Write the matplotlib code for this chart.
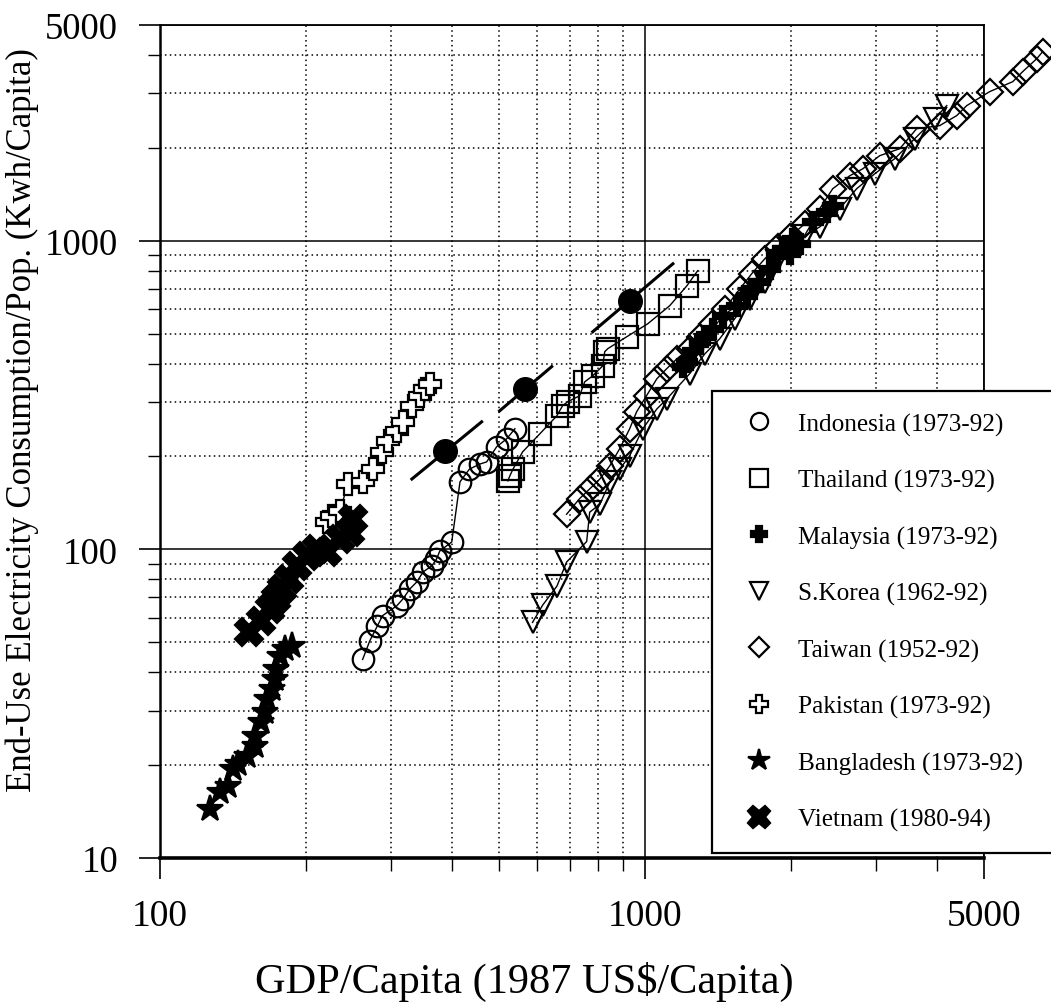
import numpy as np
import matplotlib.pyplot as plt
from matplotlib.lines import Line2D

plt.rcParams['font.family'] = ['Liberation Serif', 'DejaVu Serif']

# GDP/capita (1987 US$) vs end-use electricity (kWh/capita)
indonesia_gdp = [262, 271, 281, 288, 308, 317, 328, 339, 349, 364, 372, 378, 400,
                 416, 435, 457, 472, 495, 519, 540]
indonesia_kwh = [44, 50.5, 56.5, 61, 65.6, 69, 74.5, 78.5, 84.5, 88.4, 93, 98.8, 105.7,
                 165.6, 182, 189, 192, 215, 228, 246]

thailand_gdp = [522, 527, 535, 560, 608, 659, 677, 694, 734, 752, 781, 819, 827, 839,
                919, 1014, 1126, 1221, 1286]
thailand_kwh = [166.7, 173, 182, 207, 237, 271, 292, 301, 314.5, 349, 365, 393, 437, 447,
                489, 538, 616, 714, 800]

malaysia_gdp = [1197, 1221, 1256, 1298, 1330, 1381, 1448, 1548, 1623, 1662, 1726, 1810,
                1871, 1925, 1991, 2018, 2087, 2220, 2374, 2441]
malaysia_kwh = [391, 405, 440, 471, 488, 518, 571, 616, 663, 700, 736, 811,
                894, 942, 907, 1015, 977, 1153, 1241, 1299]

korea_gdp = [587, 616, 659, 690, 759, 770, 808, 847, 888, 931, 991, 1059, 1110, 1238, 1330,
             1427, 1533, 1646, 1768, 1871, 1991, 2138, 2296, 2524, 2735, 2980, 3277, 3603,
             3961, 4195]
korea_kwh = [58, 66, 76, 91, 106, 132, 140, 165, 182, 201, 246, 285, 307, 371, 430,
             481, 559, 649, 736, 861, 942, 1038, 1109, 1271, 1474, 1648, 1845, 2141,
             2486, 2740]

taiwan_gdp = [690, 734, 770, 808, 847, 888, 931, 962, 1009, 1059, 1110, 1164, 1238, 1298,
              1375, 1462, 1570, 1662, 1768, 1880, 1991, 2138, 2296, 2441, 2647, 2815, 3051,
              3356, 3636, 4055, 4398, 4612, 5142, 5740, 6018, 6433, 6615]
taiwan_kwh = [130, 146, 157, 169, 186.5, 212, 246, 279, 315, 357, 385, 414, 447, 489,
              538, 602, 698, 782, 874, 956, 1030, 1135, 1271, 1474, 1624, 1710, 1886,
              1987, 2307, 2360, 2543, 2740, 3041, 3277, 3533, 3890, 4100]

pakistan_gdp = [221, 227, 235, 244.5, 262, 275, 287, 295, 308, 317, 332, 344, 352, 360]
pakistan_kwh = [123, 128.5, 133, 163, 165.5, 182, 207, 225, 242, 259, 292, 314, 331, 344]

bangladesh_gdp = [127, 133, 138, 141.5, 145, 151, 157, 157, 162, 164.7, 166, 170, 172.6,
                  174, 176.6, 181, 187]
bangladesh_kwh = [14.4, 16.4, 17.1, 19.4, 20.2, 21.4, 23.1, 24.9, 27.6, 29.7, 32.7, 35.3,
                  38, 41, 45.2, 47.6, 48.6]

vietnam_gdp = [153, 162, 168.6, 173.5, 179, 185, 191.5, 201, 211, 221, 235, 246.5, 250]
vietnam_kwh = [54, 58.6, 64, 69, 74.5, 80, 88.4, 95, 100.4, 98, 108, 114, 125.6]

# filled reference points and the short segments through them
ref_gdp = [387, 566, 931]
ref_kwh = [208.5, 331, 639]
seg_gdp = [(331, 461), (502, 643), (781, 1143)]
seg_kwh = [(169, 259), (281, 391), (507, 842)]

series = [
    ('Indonesia (1973-92)', indonesia_gdp, indonesia_kwh, dict(marker='o', ms=15.5, mfc='none')),
    ('Thailand (1973-92)', thailand_gdp, thailand_kwh, dict(marker='s', ms=15.5, mfc='none')),
    ('Malaysia (1973-92)', malaysia_gdp, malaysia_kwh, dict(marker='P', ms=15, mfc='k')),
    ('S.Korea (1962-92)', korea_gdp, korea_kwh, dict(marker='v', ms=16.5, mfc='none')),
    ('Taiwan (1952-92)', taiwan_gdp, taiwan_kwh, dict(marker='D', ms=13, mfc='none')),
    ('Pakistan (1973-92)', pakistan_gdp, pakistan_kwh, dict(marker='P', ms=16.5, mfc='white')),
    ('Bangladesh (1973-92)', bangladesh_gdp, bangladesh_kwh, dict(marker='*', ms=20, mfc='k')),
    ('Vietnam (1980-94)', vietnam_gdp, vietnam_kwh, dict(marker='X', ms=20, mfc='k')),
]

fig = plt.figure(figsize=(10.51, 10.04), dpi=100)
ax = fig.add_axes([0.152, 0.1444, 0.784, 0.8297])
ax.set_xscale('log')
ax.set_yscale('log')
ax.set_xlim(100, 5000)
ax.set_ylim(10, 5000)

handles = []
for name, gx, ey, st in series:
    clip = name[:6] != 'Taiwan'
    # thin line joining the yearly points
    ax.plot(gx, ey, color='k', lw=1, zorder=3, clip_on=clip)
    ax.plot(gx, ey, ls='none', mec='k', mew=1.6, zorder=4, clip_on=clip, **st)
    handles.append(Line2D([], [], ls='none', mec='k', mew=1.6, label=name, **st))

for sx, sy in zip(seg_gdp, seg_kwh):
    ax.plot(sx, sy, color='k', lw=2.2, zorder=5)
ax.plot(ref_gdp, ref_kwh, 'o', color='k', ms=17, zorder=6)

ax.set_xticks([100, 1000, 5000])
ax.set_xticklabels(['100', '1000', '5000'])
ax.set_xticks([200, 300, 400, 500, 600, 700, 800, 900, 2000, 3000, 4000], minor=True)
ax.set_yticks([10, 100, 1000, 5000])
ax.set_yticklabels(['10', '100', '1000', '5000'])
ax.set_yticks([20, 30, 40, 50, 60, 70, 80, 90, 200, 300, 400, 500, 600, 700, 800, 900,
               2000, 3000, 4000], minor=True)
ax.xaxis.set_minor_formatter(plt.NullFormatter())
ax.yaxis.set_minor_formatter(plt.NullFormatter())

ax.grid(which='major', color='k', lw=1.1, ls='-')
ax.grid(which='minor', color='k', lw=1.1, ls=(0, (1, 2.2)))
ax.set_axisbelow(True)

ax.tick_params(which='major', direction='out', length=15, width=1.2, colors='k')
ax.tick_params(which='minor', direction='out', length=9, width=1.0)
ax.tick_params(axis='x', which='major', pad=14, labelsize=27)
ax.tick_params(axis='y', which='major', pad=15, labelsize=26.5)

for side in ['top', 'right']:
    ax.spines[side].set_linewidth(1.3)
ax.spines['left'].set_linewidth(1.8)
ax.spines['bottom'].set_linewidth(2.6)

ax.set_xlabel('GDP/Capita (1987 US$/Capita)', fontsize=30.5)
ax.xaxis.set_label_coords(0.443, -0.124)
ax.set_ylabel('End-Use Electricity Consumption/Pop. (Kwh/Capita)', fontsize=25)
ax.yaxis.set_label_coords(-0.147, 0.527)

leg = ax.legend(handles=handles, loc='upper left', bbox_to_anchor=(0.67, 0.5606, 0.45, 0),
                mode='expand', borderaxespad=0, fontsize=18.2, frameon=True, fancybox=False,
                edgecolor='k', framealpha=1, markerscale=0.8, handlelength=2.0,
                handletextpad=0.57, labelspacing=1.32, borderpad=0.85)
leg.get_frame().set_linewidth(1.6)
leg.set_zorder(10)

fig.savefig('out.png', dpi=100)
